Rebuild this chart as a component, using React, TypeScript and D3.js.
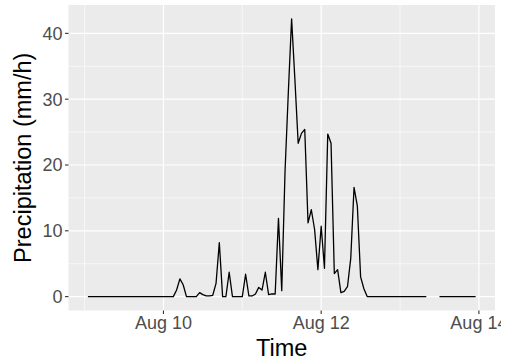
import React from "react";
import * as d3 from "d3";

// Hourly precipitation (mm/h), Aug 9 01:00 through Aug 13 23:00 (UTC)
const START = Date.UTC(2021, 7, 9, 1);
const aug9: (number | null)[] = Array(23).fill(0);
const aug10: (number | null)[] = [
  0, 0, 0, 0, 1.0, 2.7, 1.8, 0, 0, 0, 0, 0.6,
  0.3, 0.1, 0.1, 0.2, 2.0, 8.2, 0, 0, 3.7, 0, 0, 0,
];
const aug11: (number | null)[] = [
  0, 3.4, 0.1, 0.1, 0.4, 1.4, 1.0, 3.7, 0.3, 0.4, 0.4, 11.9,
  0.9, 19, 31, 42.2, 33, 23.3, 24.8, 25.4, 11.2, 13.2, 10.2, 4.1,
];
const aug12: (number | null)[] = [
  10.7, 4.3, 24.7, 23.3, 3.5, 4.1, 0.6, 0.8, 1.5, 5.8, 16.6, 13.8,
  3.0, 1.2, 0, 0, 0, 0, 0, 0, 0, 0, 0, 0,
];
const aug13: (number | null)[] = [
  0, 0, 0, 0, 0, 0, 0, 0, 0, null, null, null,
  0, 0, 0, 0, 0, 0, 0, 0, 0, 0, 0, 0,
];
const precip = [...aug9, ...aug10, ...aug11, ...aug12, ...aug13];

const xMajorTicks = [Date.UTC(2021, 7, 10), Date.UTC(2021, 7, 12), Date.UTC(2021, 7, 14)];
const xMinorTicks = [Date.UTC(2021, 7, 9), Date.UTC(2021, 7, 11), Date.UTC(2021, 7, 13)];
const yMajorTicks = [0, 10, 20, 30, 40];
const yMinorTicks = [5, 15, 25, 35];

type Pt = { t: Date; v: number | null };
const series: Pt[] = precip.map((v, i) => ({ t: new Date(START + i * 3600e3), v }));

const W = 511;
const H = 362;
const panel = { left: 68.5, right: 495, top: 5, bottom: 310.5 };

export default function App() {
  const t0 = series[0].t.getTime();
  const t1 = series[series.length - 1].t.getTime();
  const padT = (t1 - t0) * 0.05;
  const x = d3
    .scaleUtc()
    .domain([new Date(t0 - padT), new Date(t1 + padT)])
    .range([panel.left, panel.right]);
  const vMax = d3.max(series, (d) => d.v ?? 0) as number;
  const padV = vMax * 0.05;
  const y = d3.scaleLinear().domain([-padV, vMax + padV]).range([panel.bottom, panel.top]);

  const line = d3
    .line<Pt>()
    .defined((d) => d.v != null)
    .x((d) => x(d.t))
    .y((d) => y(d.v as number));

  const fmt = d3.utcFormat("%b %d");
  const font = "'Liberation Sans', Arial, Helvetica, sans-serif";

  return (
    <svg
      width={W}
      height={H}
      style={{ position: "absolute", left: 0, top: 0, background: "#fff" }}
    >
      <defs>
        <clipPath id="device">
          <rect x={0} y={0} width={501} height={H} />
        </clipPath>
      </defs>
      <g clipPath="url(#device)">
        <rect
          x={panel.left}
          y={panel.top}
          width={panel.right - panel.left}
          height={panel.bottom - panel.top}
          fill="#EBEBEB"
        />
        {yMinorTicks.map((v) => (
          <line key={"ym" + v} x1={panel.left} x2={panel.right} y1={y(v)} y2={y(v)} stroke="#fff" strokeWidth={0.6} />
        ))}
        {xMinorTicks.map((t) => (
          <line key={"xm" + t} x1={x(new Date(t))} x2={x(new Date(t))} y1={panel.top} y2={panel.bottom} stroke="#fff" strokeWidth={0.6} />
        ))}
        {yMajorTicks.map((v) => (
          <line key={"yM" + v} x1={panel.left} x2={panel.right} y1={y(v)} y2={y(v)} stroke="#fff" strokeWidth={1.2} />
        ))}
        {xMajorTicks.map((t) => (
          <line key={"xM" + t} x1={x(new Date(t))} x2={x(new Date(t))} y1={panel.top} y2={panel.bottom} stroke="#fff" strokeWidth={1.2} />
        ))}
        <path d={line(series) ?? ""} fill="none" stroke="#000" strokeWidth={1.3} strokeLinejoin="round" />

        {yMajorTicks.map((v) => (
          <g key={"yt" + v}>
            <line x1={panel.left - 3.5} x2={panel.left} y1={y(v)} y2={y(v)} stroke="#333" strokeWidth={1.1} />
            <text
              x={panel.left - 6}
              y={y(v)}
              dy="0.36em"
              textAnchor="end"
              fontFamily={font}
              fontSize={18}
              fill="#4D4D4D"
            >
              {v}
            </text>
          </g>
        ))}
        {xMajorTicks.map((t) => (
          <g key={"xt" + t}>
            <line x1={x(new Date(t))} x2={x(new Date(t))} y1={panel.bottom} y2={panel.bottom + 3.5} stroke="#333" strokeWidth={1.1} />
            <text
              x={x(new Date(t))}
              y={328.5}
              textAnchor="middle"
              fontFamily={font}
              fontSize={18}
              fill="#4D4D4D"
            >
              {fmt(new Date(t))}
            </text>
          </g>
        ))}
        <text
          x={(panel.left + panel.right) / 2}
          y={356}
          textAnchor="middle"
          fontFamily={font}
          fontSize={23.5}
          fill="#000"
        >
          Time
        </text>
        <text
          transform={`translate(31,${(panel.top + panel.bottom) / 2}) rotate(-90)`}
          textAnchor="middle"
          fontFamily={font}
          fontSize={23.5}
          fill="#000"
        >
          Precipitation (mm/h)
        </text>
      </g>
    </svg>
  );
}
